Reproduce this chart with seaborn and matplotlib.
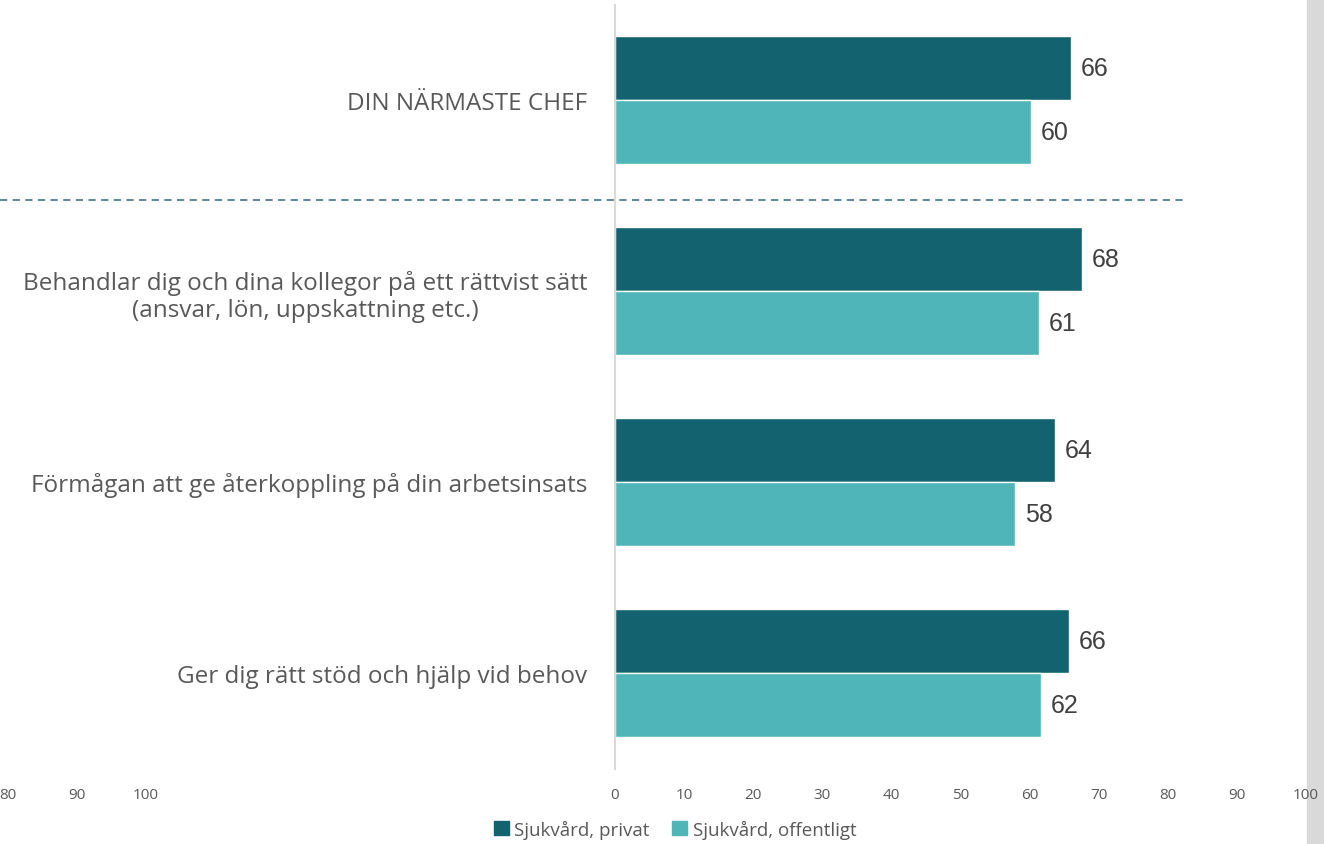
import pandas as pd
import matplotlib.pyplot as plt
import seaborn as sns

# Data
categories = [
    "DIN NÄRMASTE CHEF",
    "Behandlar dig och dina kollegor på ett rättvist sätt\n(ansvar, lön, uppskattning etc.)",
    "Förmågan att ge återkoppling på din arbetsinsats",
    "Ger dig rätt stöd och hjälp vid behov",
]
series = ["Sjukvård, privat", "Sjukvård, offentligt"]
privat = [66.0, 67.6, 63.7, 65.7]
offentligt = [60.2, 61.4, 57.9, 61.6]
privat_labels = [66, 68, 64, 66]
offentligt_labels = [60, 61, 58, 62]
x_ticks = list(range(0, 101, 10))
left_ticks = [80, 90, 100]

df = pd.DataFrame({
    "kategori": categories * 2,
    "serie": [series[0]] * 4 + [series[1]] * 4,
    "varde": privat + offentligt,
})

sns.set_style("white")
plt.rcParams["font.family"] = ["Open Sans", "DejaVu Sans"]

dark = "#12636f"
light = "#4fb5b9"
label_col = "#595959"

fig = plt.figure(figsize=(13.24, 8.45), dpi=100)
ax = fig.add_axes([615 / 1324, 1 - 769.5 / 845, 691 / 1324, 764 / 845])

sns.barplot(data=df, y="kategori", x="varde", hue="serie", order=categories,
            hue_order=series, palette=[dark, light], width=0.665,
            orient="h", ax=ax, legend=False, saturation=1)

ax.set_xlim(0, 100)
ax.set_ylim(3.5, -0.5)
ax.set_xticks(x_ticks)
ax.set_xlabel("")
ax.set_ylabel("")
for s in ["top", "right", "bottom"]:
    ax.spines[s].set_visible(False)
ax.spines["left"].set_color("#d9d9d9")
ax.spines["left"].set_linewidth(1.5)
ax.tick_params(axis="x", length=0, labelsize=11, labelcolor=label_col, pad=13)
ax.tick_params(axis="y", length=0, labelsize=17.5, labelcolor=label_col, pad=20)
for t in ax.get_yticklabels():
    t.set_multialignment("center")

# value labels
for cont, labs in zip(ax.containers, [privat_labels, offentligt_labels]):
    ax.bar_label(cont, labels=[str(v) for v in labs], padding=7, fontsize=18,
                 color="#404040", family=["Liberation Sans", "DejaVu Sans"])

# dashed separator under the header row
ax.axhline(0.525, xmin=-615 / 691, xmax=570 / 691, clip_on=False,
           color="#4f7f8f", ls=(0, (4, 3)), lw=1.3)

# cut-off axis of a neighbouring panel on the left
ax2 = fig.add_axes([-545 / 1324, 1 - 769.5 / 845, 691 / 1324, 764 / 845])
ax2.set_xlim(0, 100)
ax2.set_xticks(left_ticks)
ax2.set_yticks([])
for s in ax2.spines.values():
    s.set_visible(False)
ax2.patch.set_alpha(0)
ax2.tick_params(axis="x", length=0, labelsize=11, labelcolor=label_col, pad=13)

# gray band on the right edge
fig.patches.append(plt.Rectangle((1307 / 1324, 0), 17 / 1324, 1,
                                 transform=fig.transFigure, color="#d9d9d9",
                                 zorder=-5))

handles = [plt.Rectangle((0, 0), 1, 1, color=c) for c in [dark, light]]
fig.legend(handles, series, loc="center", bbox_to_anchor=(675 / 1324, 1 - 830 / 845),
           ncol=2, frameon=False, fontsize=13.5, labelcolor=label_col,
           handlelength=0.8, handleheight=0.8, handletextpad=0.3, columnspacing=1.2)

fig.savefig("out.png", dpi=100)
